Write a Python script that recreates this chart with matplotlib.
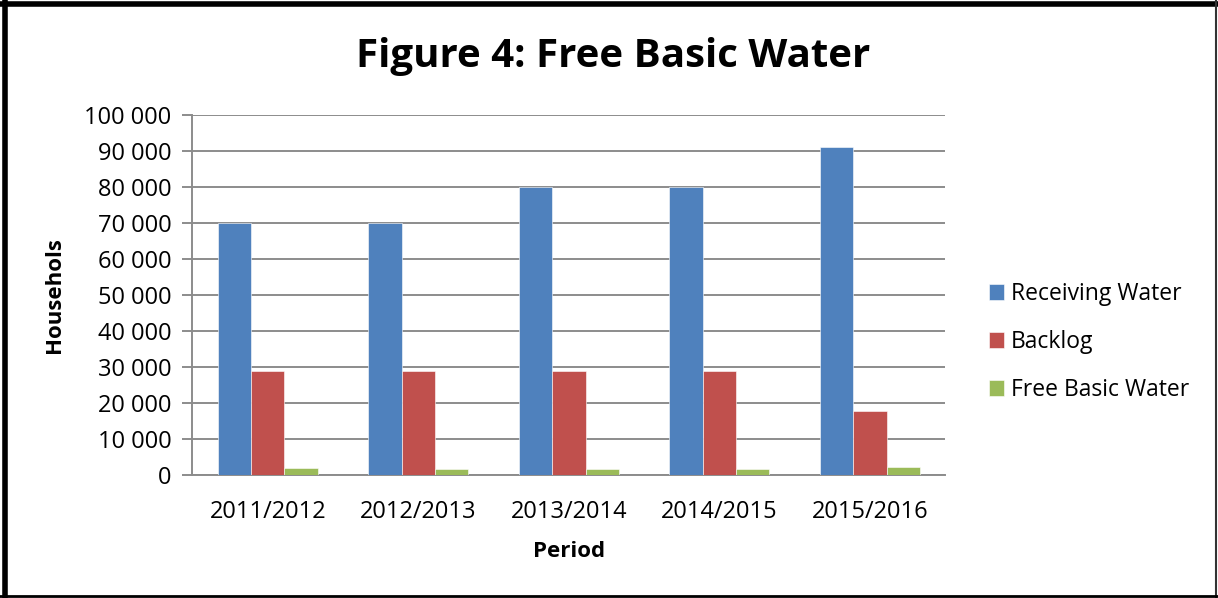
import matplotlib.pyplot as plt
import numpy as np
from matplotlib import ticker
from matplotlib.lines import Line2D

periods = ["2011/2012", "2012/2013", "2013/2014", "2014/2015", "2015/2016"]
receiving_water = [70000, 70000, 80000, 80000, 91000]
backlog = [28900, 28800, 28800, 28800, 17700]
free_basic_water = [1950, 1700, 1700, 1700, 2250]

series = [
    ("Receiving Water", receiving_water, "#4F81BD"),
    ("Backlog", backlog, "#C0504D"),
    ("Free Basic Water", free_basic_water, "#9BBB59"),
]

plt.rcParams["font.family"] = ["Open Sans", "DejaVu Sans"]

fig = plt.figure(figsize=(12.18, 5.98), dpi=100)
ax = fig.add_axes([0.158, 0.2057, 0.618, 0.602])

x = np.arange(len(periods))
w = 0.222
for i, (label, vals, color) in enumerate(series):
    ax.bar(x + (i - 1) * w, vals, w, color=color, label=label,
           edgecolor="#ffffff", linewidth=0.4, zorder=3)

ax.set_xlim(-0.5, len(periods) - 0.5)
ax.set_ylim(0, 100000)
ax.yaxis.set_major_locator(ticker.MultipleLocator(10000))
ax.yaxis.set_major_formatter(ticker.FuncFormatter(lambda v, p: f"{int(v):,}".replace(",", " ")))
ax.set_xticks(x)
ax.set_xticklabels(periods)
ax.grid(axis="y", color="#8c8c8c", linewidth=1.4, zorder=0)

for s in ["top", "right"]:
    ax.spines[s].set_visible(False)
ax.spines["left"].set_color("#8c8c8c")
ax.spines["left"].set_linewidth(1.4)
ax.spines["bottom"].set_color("#8c8c8c")
ax.spines["bottom"].set_linewidth(1.4)
ax.tick_params(axis="y", length=7, width=1.4, color="#8c8c8c", labelsize=17, pad=8)
ax.tick_params(axis="x", length=0, labelsize=17, pad=18)

ax.set_ylabel("Househols", fontsize=16, fontweight="bold", labelpad=14)
ax.set_xlabel("Period", fontsize=16, fontweight="bold", labelpad=12)

fig.text(0.503, 0.905, "Figure 4: Free Basic Water", ha="center", va="center",
         fontsize=29, fontweight="bold")

leg = ax.legend(loc="center left", bbox_to_anchor=(0.795, 0.428), bbox_transform=fig.transFigure,
                frameon=False, fontsize=16.5, handlelength=0.65, handleheight=0.65,
                handletextpad=0.3, labelspacing=1.05)

# border around the chart
fig.add_artist(Line2D([0.004, 0.004], [0, 1], color="black", linewidth=4, transform=fig.transFigure))
fig.add_artist(Line2D([0, 1], [0.994, 0.994], color="black", linewidth=4, transform=fig.transFigure))
fig.add_artist(Line2D([0.9985, 0.9985], [0, 1], color="#333333", linewidth=1.5, transform=fig.transFigure))
fig.add_artist(Line2D([0, 1], [0.004, 0.004], color="black", linewidth=2, transform=fig.transFigure))

fig.savefig("out.png", dpi=100)
